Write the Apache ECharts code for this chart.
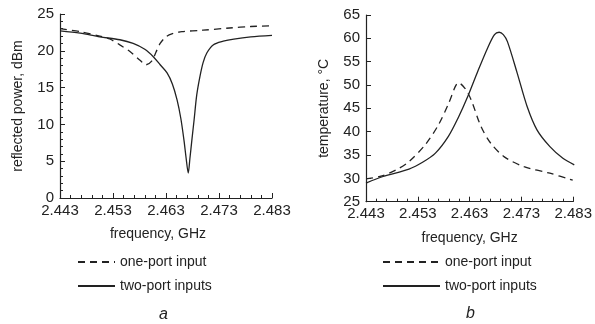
<!DOCTYPE html>
<html>
<head>
<meta charset="utf-8">
<script src="https://cdn.jsdelivr.net/npm/echarts@6/dist/echarts.min.js"></script>
<style>
  html, body { margin: 0; padding: 0; background: #fff; }
  #chart { width: 595px; height: 324px; }
</style>
</head>
<body>
<div id="chart"></div>
<script>
// panel a: reflected power vs frequency
const freqAOne = [2.443, 2.4468, 2.4505, 2.4524, 2.4543, 2.4562, 2.4581, 2.4592, 2.4603, 2.4611, 2.4619, 2.4630, 2.4641, 2.4660, 2.4700, 2.4750, 2.4790, 2.4830];
const powerOne = [23.0, 22.6, 22.0, 21.6, 20.8, 19.9, 18.7, 18.1, 18.6, 19.8, 21.0, 21.9, 22.3, 22.6, 22.8, 23.1, 23.3, 23.4];
const freqATwo = [2.443, 2.4468, 2.4505, 2.4543, 2.4568, 2.4590, 2.4606, 2.4619, 2.4632, 2.4642, 2.4651, 2.4658, 2.4664, 2.4668, 2.4672, 2.4675, 2.4679, 2.4683, 2.4688, 2.4694, 2.4700, 2.4707, 2.4719, 2.4738, 2.4758, 2.4790, 2.4830];
const powerTwo = [22.7, 22.4, 21.9, 21.5, 21.0, 20.2, 19.2, 18.1, 17.0, 15.5, 13.3, 10.8, 7.8, 5.4, 3.4, 5.3, 8.0, 10.6, 14.0, 16.5, 18.4, 19.7, 20.8, 21.3, 21.6, 21.9, 22.1];

// panel b: temperature vs frequency
const freqBOne = [2.443, 2.4457, 2.4488, 2.4513, 2.4545, 2.4570, 2.4590, 2.4602, 2.4608, 2.4621, 2.4633, 2.4652, 2.4671, 2.4697, 2.4735, 2.4785, 2.4829];
const tempOne = [29.9, 30.4, 31.8, 33.6, 37.3, 41.5, 46.2, 49.6, 50.5, 49.3, 46.8, 41.1, 37.5, 34.6, 32.5, 31.1, 29.6];
const freqBTwo = [2.443, 2.4463, 2.4513, 2.4540, 2.4564, 2.4589, 2.4608, 2.4627, 2.4646, 2.4665, 2.4678, 2.4687, 2.4695, 2.4703, 2.4722, 2.4741, 2.4760, 2.4785, 2.4810, 2.4832];
const tempTwo = [29.0, 30.4, 32.0, 33.5, 35.4, 39.0, 43.0, 47.7, 53.0, 58.0, 60.8, 61.3, 60.8, 59.3, 52.5, 45.4, 40.4, 36.8, 34.3, 32.9];

const seriesNames = ['one-port input', 'two-port inputs'];
const freqStart = 2.443; // x axis runs in MHz offset from here

const ink = '#222';
const font = 'Liberation Sans, Arial, Helvetica, sans-serif';

// turn GHz values into MHz offset from axis start
function toPoints(freqs, vals) {
  return freqs.map((f, i) => [(f - freqStart) * 1000, vals[i]]);
}

function xAxisFor(gridIndex, namePad) {
  return {
    gridIndex: gridIndex,
    type: 'value',
    min: 0, max: 40, interval: 10,
    name: 'frequency, GHz',
    nameLocation: 'middle',
    nameGap: 29,
    nameTextStyle: { color: ink, fontSize: 14, fontFamily: font, padding: namePad },
    axisLine: { lineStyle: { color: ink, width: 1.2 } },
    axisTick: { inside: true, length: 5, lineStyle: { color: ink } },
    minorTick: { show: true, splitNumber: 5, length: 3, lineStyle: { color: ink } },
    axisLabel: {
      color: ink, fontSize: 15, fontFamily: font, margin: 5,
      formatter: v => (freqStart + v / 1000).toFixed(3)
    },
    splitLine: { show: false }
  };
}

function yAxisFor(gridIndex, min, max, name, minor) {
  return {
    gridIndex: gridIndex,
    type: 'value',
    min: min, max: max, interval: 5,
    name: name,
    nameLocation: 'middle',
    nameRotate: 90,
    nameGap: 35,
    nameTextStyle: { color: ink, fontSize: 14, fontFamily: font },
    axisLine: { show: true, lineStyle: { color: ink, width: 1.2 } },
    axisTick: { show: true, inside: true, length: 5, lineStyle: { color: ink } },
    minorTick: { show: minor, splitNumber: 5, length: 3, lineStyle: { color: ink } },
    axisLabel: { color: ink, fontSize: 15, fontFamily: font, margin: 6 },
    splitLine: { show: false }
  };
}

function lineSeries(name, idx, data, dashed) {
  return {
    name: name,
    type: 'line',
    xAxisIndex: idx,
    yAxisIndex: idx,
    data: data,
    smooth: 0.3,
    symbol: 'none',
    lineStyle: { color: ink, width: 1.3, type: dashed ? [7, 5] : 'solid' },
    itemStyle: { color: ink },
    animation: false
  };
}

function legendAt(left, top, iconW) {
  return {
    data: seriesNames,
    orient: 'vertical',
    left: left, top: top,
    padding: 0,
    itemWidth: iconW, itemHeight: 14, itemGap: 10,
    itemStyle: { opacity: 0 },
    textStyle: { color: ink, fontSize: 14, fontFamily: font },
    selectedMode: false
  };
}

const chart = echarts.init(document.getElementById('chart'));
chart.setOption({
  backgroundColor: '#fff',
  animation: false,
  grid: [
    { left: 60, top: 14, width: 212, height: 184 },
    { left: 366, top: 15, width: 211, height: 186.7 }
  ],
  xAxis: [xAxisFor(0, [0, 16, 0, 0]), xAxisFor(1, 0)],
  yAxis: [
    yAxisFor(0, 0, 25, 'reflected power, dBm', true),
    yAxisFor(1, 25, 65, 'temperature, \u00B0C', false)
  ],
  legend: [legendAt(77, 255, 37), legendAt(382, 255, 57)],
  series: [
    lineSeries(seriesNames[0], 0, toPoints(freqAOne, powerOne), true),
    lineSeries(seriesNames[1], 0, toPoints(freqATwo, powerTwo), false),
    lineSeries(seriesNames[0], 1, toPoints(freqBOne, tempOne), true),
    lineSeries(seriesNames[1], 1, toPoints(freqBTwo, tempTwo), false)
  ],
  graphic: [
    { type: 'text', left: 159, top: 307, style: { text: 'a', fill: ink, font: 'italic 16px ' + font } },
    { type: 'text', left: 466, top: 306, style: { text: 'b', fill: ink, font: 'italic 16px ' + font } }
  ]
});
</script>
</body>
</html>
